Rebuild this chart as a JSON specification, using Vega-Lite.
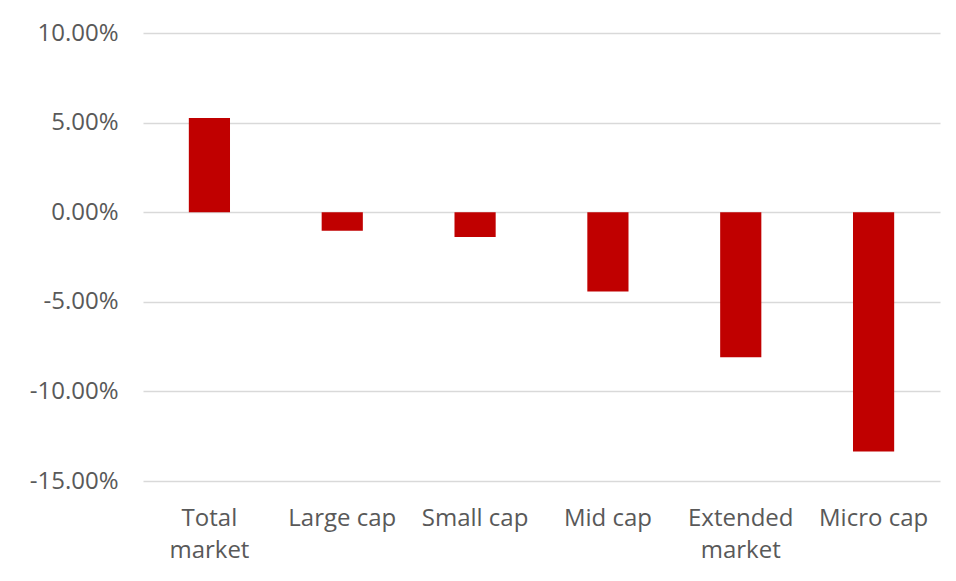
{
  "$schema": "https://vega.github.io/schema/vega-lite/v6.json",
  "width": 797,
  "height": 448,
  "autosize": {"type": "none"},
  "padding": {"left": 143, "top": 33, "right": 16, "bottom": 100},
  "background": "white",
  "data": {
    "values": [
      {"category": "Total market", "value": 0.0526},
      {"category": "Large cap", "value": -0.0103},
      {"category": "Small cap", "value": -0.0139},
      {"category": "Mid cap", "value": -0.0443},
      {"category": "Extended market", "value": -0.0809},
      {"category": "Micro cap", "value": -0.1335}
    ]
  },
  "mark": {"type": "bar", "color": "#C00000"},
  "encoding": {
    "x": {
      "field": "category",
      "type": "nominal",
      "sort": null,
      "scale": {"paddingInner": 0.69, "paddingOuter": 0.345},
      "axis": {
        "title": null,
        "labelAngle": 0,
        "domain": false,
        "ticks": false,
        "labelPadding": 25,
        "labelFontSize": 24,
        "labelLineHeight": 32,
        "labelColor": "#595959",
        "labelFont": "Open Sans",
        "labelExpr": "datum.label == 'Total market' ? ['Total', 'market'] : datum.label == 'Extended market' ? ['Extended', 'market'] : datum.label"
      }
    },
    "y": {
      "field": "value",
      "type": "quantitative",
      "scale": {"domain": [-0.15, 0.1], "nice": false, "zero": false},
      "axis": {
        "title": null,
        "values": [-0.15, -0.1, -0.05, 0, 0.05, 0.1],
        "format": ".2%",
        "labelExpr": "replace(datum.label, '−', '-')",
        "domain": false,
        "ticks": false,
        "labelPadding": 25,
        "labelFontSize": 24,
        "labelColor": "#595959",
        "labelFont": "Open Sans",
        "gridColor": "#D9D9D9",
        "gridWidth": 1.3
      }
    }
  },
  "config": {"view": {"stroke": null}}
}
